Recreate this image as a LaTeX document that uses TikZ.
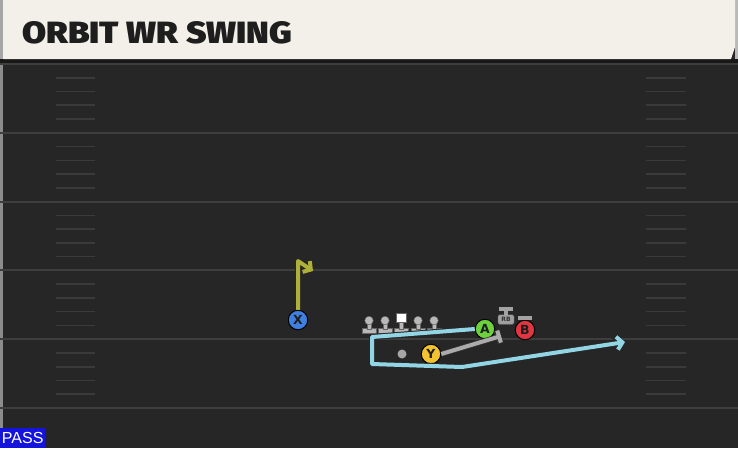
\documentclass[tikz,border=0pt]{standalone}
\usepackage{fontspec}
\usepackage{graphicx}
\setmainfont{DejaVu Sans}
\newfontfamily\libsans{Liberation Sans}
\newfontfamily\titlefont{Fira Sans}[UprightFont={* Black}]
\usetikzlibrary{arrows.meta}
\definecolor{cream}{HTML}{F3F0E9}
\definecolor{titlec}{HTML}{1E1E1E}
\definecolor{fieldbg}{HTML}{262626}
\definecolor{yardc}{HTML}{3E3E3E}
\definecolor{hashc}{HTML}{3A3A3A}
\definecolor{bandc}{HTML}{181818}
\definecolor{routecyan}{HTML}{92D6E6}
\definecolor{routeyel}{HTML}{AEB03A}
\definecolor{blockgrey}{HTML}{ABABAB}
\definecolor{pxblue}{HTML}{3F7FE0}
\definecolor{pagreen}{HTML}{6DD13E}
\definecolor{pbred}{HTML}{E0363F}
\definecolor{pyyel}{HTML}{F2C230}
\definecolor{linec}{HTML}{B8B8B8}
\definecolor{passblue}{HTML}{1414DC}
\begin{document}
\begin{tikzpicture}[x=1pt,y=-1pt,
  player/.style={circle, draw=black, line width=1pt, minimum size=19.5pt, inner sep=0pt,
    font=\bfseries\fontsize{12.5}{12.5}\selectfont, text=titlec},
  qbdot/.style={circle, fill=gray!70, minimum size=9pt, inner sep=0pt},
  linehead/.style={circle, fill=linec, draw=black!60, line width=0.4pt, minimum size=8.5pt, inner sep=0pt},
  centerhead/.style={rectangle, fill=white, draw=black!60, line width=0.4pt, minimum size=9.5pt, inner sep=0pt},
  linepart/.style={fill=linec, draw=black!60, line width=0.4pt},
  rbbox/.style={rectangle, rounded corners=1.5pt, fill=gray!75, draw=black!60, line width=0.4pt,
    minimum width=16pt, minimum height=9.5pt, inner sep=0pt, font=\bfseries\fontsize{6}{6}\selectfont, text=black!80},
  tmark/.style={draw=blockgrey!110, line width=4pt, -{Bar[width=14pt, line width=4pt]}},
  routeout/.style={draw=black!85, line width=6pt, line join=round},
  routein/.style={line width=4pt, line join=round},
  yardline/.style={draw=yardc, line width=2pt},
  hashmark/.style={draw=hashc, line width=1.6pt}]
\useasboundingbox (0,0) rectangle (738,448);
% field
\fill[fieldbg] (0,0) rectangle (738,448);
\fill[black!45] (0,0) rectangle (3,448);
\foreach \i in {0,...,5} {\draw[yardline] (0,{64+68.8*\i}) -- (738,{64+68.8*\i});}
\foreach \i in {0,...,4} {\foreach \k in {1,...,4} {
  \draw[hashmark] (56,{64+68.8*\i+13.76*\k}) -- (95,{64+68.8*\i+13.76*\k});
  \draw[hashmark] (646,{64+68.8*\i+13.76*\k}) -- (686,{64+68.8*\i+13.76*\k});}}
% header
\fill[bandc] (0,59) rectangle (738,63);
\fill[gray!70] (0,0) rectangle (3,59);
\fill[gray!55] (735,0) rectangle (738,59);
\fill[cream] (3,0) -- (735,0) -- (735,47) -- (731,59) -- (3,59) -- cycle;
\node[anchor=base west, inner sep=0pt, text=titlec] (title) at (22,43)
  {\resizebox{270pt}{22pt}{\titlefont ORBIT WR SWING}};
% offensive line
\foreach \x [count=\n] in {369,385,418,434} {
  \fill[linepart] (\x-7,328.5) rectangle (\x+7,333);
  \fill[linepart] (\x-2,322) rectangle (\x+2,329);
  \node[linehead] (L\n) at (\x,320.5) {};
}
\fill[linepart] (401-7,328.5) rectangle (401+7,333);
\fill[linepart] (401-2,321) rectangle (401+2,329);
\node[centerhead] (C) at (401,317.5) {};
% players
\node[qbdot] (QB) at (402,354) {};
\node[player, fill=pxblue] (X) at (298,320) {X};
\node[player, fill=pagreen] (A) at (485,329) {A};
\node[player, fill=pbred] (B) at (525,330) {B};
\node[player, fill=pyyel] (Y) at (431,354) {Y};
\node[rbbox] (RB) at (506,319.5) {RB};
% block marks
\coordinate (rbt) at (506,306.5);
\coordinate (bt) at (525,316);
\draw[tmark] (RB.north) -- (rbt);
\draw[tmark] (B.north) -- (bt);
\coordinate (yb) at (501,336);
\draw[draw=black!80, line width=5.5pt, -{Bar[width=14pt, line width=5.5pt]}] (Y.east) -- (yb);
\draw[draw=blockgrey, line width=4pt, -{Bar[width=12.5pt, line width=4pt]}] (Y.east) -- (yb);
% X route
\coordinate (x1) at (298,261);
\coordinate (x2) at (313,271);
\draw[routeout, -{Straight Barb[length=6.5pt, width=15pt]}] (X.north) -- (x1) -- (x2);
\draw[routein, draw=routeyel, -{Straight Barb[length=5.5pt, width=13pt]}] (X.north) -- (x1) -- (x2);
% A route
\coordinate (b1) at (372,337);
\coordinate (b2) at (372,364);
\coordinate (b3) at (462,367);
\coordinate (b4) at (625,342);
\draw[routeout, -{Straight Barb[length=6.5pt, width=15pt]}] (A.west) -- (b1) -- (b2) -- (b3) -- (b4);
\draw[routein, draw=routecyan, -{Straight Barb[length=5.5pt, width=13pt]}] (A.west) -- (b1) -- (b2) -- (b3) -- (b4);
% label
\node[fill=passblue, text=white, anchor=south west, minimum width=45pt, minimum height=20pt, inner sep=0pt,
  font=\libsans\fontsize{16}{16}\selectfont] (pass) at (0,448) {PASS};
\end{tikzpicture}
\end{document}
